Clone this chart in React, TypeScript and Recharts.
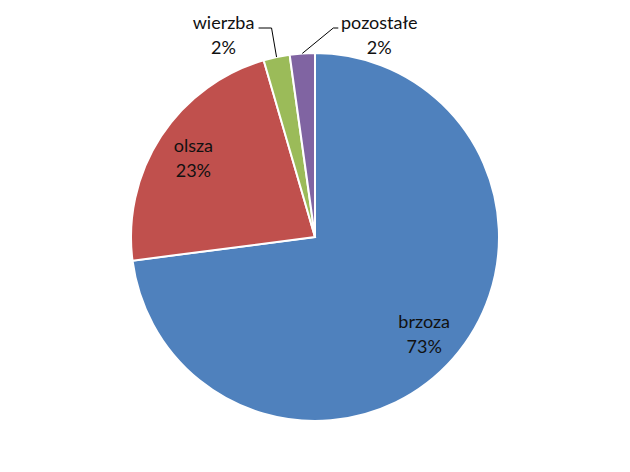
import { PieChart, Pie, Cell } from "recharts";

const species = ["brzoza", "olsza", "wierzba", "pozostałe"];
const shares = [72.95, 22.55, 2.3, 2.2];
const colors = ["#4F81BD", "#C0504D", "#9BBB59", "#8064A2"];

const data = species.map((name, i) => ({ name, value: shares[i] }));

const RADIAN = Math.PI / 180;
const FONT = "Lato, 'Liberation Sans', sans-serif";

// hand-placed callouts for the thin slices at the top
const callouts: Record<string, { ex: number; hx: number; tx: number }> = {
  wierzba: { ex: -5, hx: -13, tx: -48 },
  "pozostałe": { ex: 31, hx: 5, tx: 46 },
};

function renderLabel(props: any) {
  const { cx, cy, midAngle, outerRadius, percent, name } = props;
  const pct = `${Math.round(percent * 100)}%`;
  const cos = Math.cos(-midAngle * RADIAN);
  const sin = Math.sin(-midAngle * RADIAN);

  if (percent > 0.1) {
    const r = outerRadius * 0.79;
    const x = cx + r * cos;
    const y = cy + r * sin;
    return (
      <text x={x} y={y} textAnchor="middle" fill="#111" fontSize={18} fontFamily={FONT}>
        <tspan x={x} dy={-5}>{name}</tspan>
        <tspan x={x} dy={25}>{pct}</tspan>
      </text>
    );
  }

  const c = callouts[name];
  const sx = cx + outerRadius * cos;
  const sy = cy + outerRadius * sin;
  const ey = cy - outerRadius - 25;
  const ex = sx + c.ex;
  const hx = ex + c.hx;
  const tx = ex + c.tx;
  return (
    <g>
      <polyline points={`${sx},${sy} ${ex},${ey} ${hx},${ey}`} fill="none" stroke="#000" strokeWidth={1} />
      <text x={tx} y={ey + 1} textAnchor="middle" fill="#111" fontSize={18} fontFamily={FONT}>
        <tspan x={tx} dy={0}>{name}</tspan>
        <tspan x={tx} dy={25}>{pct}</tspan>
      </text>
    </g>
  );
}

export default function App() {
  return (
    <div style={{ width: 630, height: 472, background: "#fff" }}>
      <style>{"body{margin:0}"}</style>
      <PieChart width={630} height={472} margin={{ top: 0, right: 0, bottom: 0, left: 0 }}>
        <Pie
          data={data}
          dataKey="value"
          nameKey="name"
          cx={315}
          cy={237}
          outerRadius={184}
          startAngle={90}
          endAngle={-270}
          stroke="#fff"
          strokeWidth={2}
          label={renderLabel}
          labelLine={false}
          isAnimationActive={false}
        >
          {data.map((d, i) => (
            <Cell key={d.name} fill={colors[i]} />
          ))}
        </Pie>
      </PieChart>
    </div>
  );
}
